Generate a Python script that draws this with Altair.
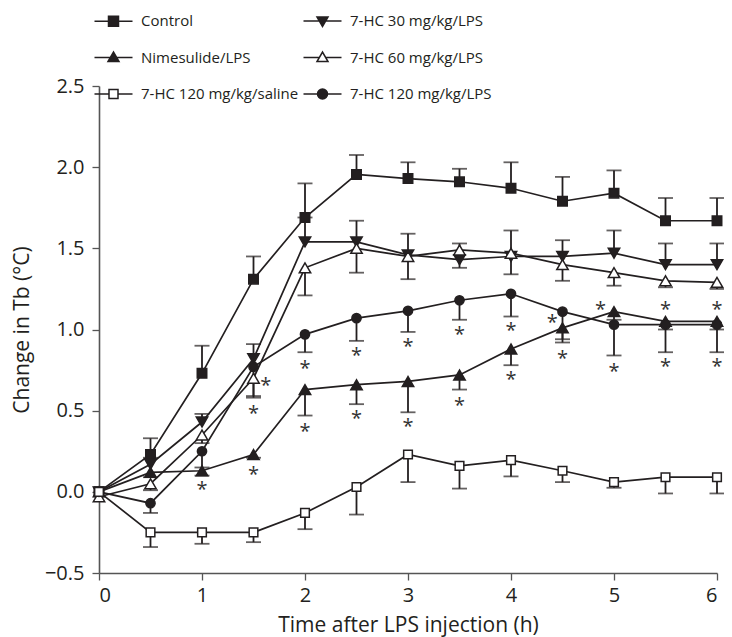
import altair as alt
import pandas as pd

# ---------------- data ----------------
times = [0, 0.5, 1, 1.5, 2, 2.5, 3, 3.5, 4, 4.5, 5, 5.5, 6]

series_names = [
    "Control",
    "7-HC 30 mg/kg/LPS",
    "Nimesulide/LPS",
    "7-HC 60 mg/kg/LPS",
    "7-HC 120 mg/kg/saline",
    "7-HC 120 mg/kg/LPS",
]

control_mean = [0, 0.23, 0.73, 1.31, 1.69, 1.955, 1.93, 1.91, 1.87, 1.79, 1.84, 1.67, 1.67]
control_err = [0, 0.10, 0.17, 0.14, 0.21, 0.12, 0.10, 0.08, 0.16, 0.15, 0.14, 0.14, 0.14]

hc30_mean = [0, 0.17, 0.43, 0.82, 1.54, 1.54, 1.46, 1.43, 1.45, 1.45, 1.47, 1.40, 1.40]
hc30_err = [0, 0.04, 0.05, 0.09, 0.15, 0.13, 0.13, 0.10, 0.16, 0.10, 0.14, 0.13, 0.13]

nime_mean = [0, 0.12, 0.13, 0.23, 0.63, 0.66, 0.68, 0.72, 0.88, 1.01, 1.11, 1.05, 1.05]
nime_err = [0, 0.03, 0.03, 0.02, 0.16, 0.12, 0.19, 0.09, 0.10, 0.09, 0.05, 0.05, 0.05]

hc60_mean = [-0.03, 0.05, 0.35, 0.70, 1.38, 1.50, 1.45, 1.49, 1.47, 1.40, 1.35, 1.30, 1.29]
hc60_err = [0, 0.04, 0.05, 0.11, 0.17, 0.15, 0.14, 0.11, 0.13, 0.10, 0.08, 0.04, 0.04]

saline_mean = [0, -0.25, -0.25, -0.25, -0.13, 0.03, 0.23, 0.16, 0.195, 0.13, 0.06, 0.09, 0.09]
saline_err = [0, 0.09, 0.07, 0.06, 0.10, 0.17, 0.17, 0.14, 0.10, 0.07, 0.035, 0.10, 0.10]

hc120_mean = [0, -0.07, 0.25, 0.77, 0.97, 1.07, 1.115, 1.18, 1.22, 1.11, 1.03, 1.03, 1.03]
hc120_err = [0, 0.06, 0.10, 0.19, 0.11, 0.14, 0.13, 0.12, 0.14, 0.17, 0.19, 0.17, 0.17]

# error bar direction (+1 up, -1 down)
err_dir = [1, 1, -1, -1, -1, -1]

# significance asterisks
ast_t = [1, 1.5, 1.5, 1.62, 2, 2, 2.5, 2.5, 3, 3, 3.5, 3.5, 4, 4, 4.4, 4.5, 4.87, 5, 5.5, 5.5, 6, 6]
ast_v = [0.04, 0.135, 0.51, 0.68, 0.79, 0.40, 0.87, 0.48, 0.92, 0.43, 1.00, 0.56, 1.02, 0.72,
         1.07, 0.85, 1.15, 0.77, 1.15, 0.80, 1.15, 0.80]

# ---------------- styling ----------------
INK = "#231f20"
point_shapes = ["square", "triangle-down", "triangle-up", "triangle-up", "square", "circle"]
point_fills = [INK, INK, INK, "white", "white", INK]
point_sizes = [90, 130, 130, 130, 75, 85]

legend_paths = [
    "M-3.8,0H-1M1,0H3.8M-1,-1H1V1H-1Z",
    "M-3.8,0H3.8M-1.1,-0.8H1.1L0,1.1Z",
    "M-3.8,0H3.8M-1.1,0.8H1.1L0,-1.1Z",
    "M-3.8,0H-0.64M0.64,0H3.8M-1.1,0.8H1.1L0,-1.1Z",
    "M-3.8,0H-0.9M0.9,0H3.8M-0.9,-0.9H0.9V0.9H-0.9Z",
    "M-3.8,0H3.8M-1,0A1,1,0,1,0,1,0A1,1,0,1,0,-1,0Z",
]

# legend fills column by column: left column first, then right column
legend_order = [0, 2, 4, 1, 3, 5]
legend_domain = [series_names[i] for i in legend_order]
legend_range = [legend_paths[i] for i in legend_order]
legend_fill = [point_fills[i] for i in legend_order]

means = [control_mean, hc30_mean, nime_mean, hc60_mean, saline_mean, hc120_mean]
errs = [control_err, hc30_err, nime_err, hc60_err, saline_err, hc120_err]

# draw order: saline last so its open square sits on top at t = 0
draw_order = [0, 1, 2, 3, 5, 4]
rows = []
for i in draw_order:
    for t, m, e in zip(times, means[i], errs[i]):
        rows.append(dict(series=series_names[i], t=t, mean=m, err=e,
                         end=m + err_dir[i] * e, shp=point_shapes[i],
                         fillc=point_fills[i], msize=point_sizes[i]))
df = pd.DataFrame(rows)
ast_df = pd.DataFrame({"t": ast_t, "v": ast_v})

x_scale = alt.Scale(domain=[0, 6], nice=False, zero=False)
y_scale = alt.Scale(domain=[-0.5, 2.5], nice=False, zero=False)

x_axis = alt.Axis(values=[0, 1, 2, 3, 4, 5, 6], format="d",
                  title="Time after LPS injection (h)", grid=False,
                  tickSize=7, labelPadding=5, labelFontSize=20,
                  titleFontSize=21, titleY=58, titleBaseline="alphabetic")
y_axis = alt.Axis(values=[-0.5, 0, 0.5, 1.0, 1.5, 2.0, 2.5], format=".1f",
                  title="Change in Tb (°C)", grid=False, tickSize=7,
                  labelPadding=8, labelFontSize=20, titleFontSize=21,
                  titleX=-77, titleY=243.5, titleBaseline="middle")

X = alt.X("t:Q", scale=x_scale, axis=x_axis)
Y = alt.Y("mean:Q", scale=y_scale, axis=y_axis)

base = alt.Chart(df)

lines = base.mark_line(color=INK, strokeWidth=1.7).encode(
    x=X, y=Y, detail="series:N", order="t:Q")

err_rules = base.transform_filter("datum.err > 0").mark_rule(
    color=INK, strokeWidth=1.8).encode(x="t:Q", y="mean:Q", y2="end:Q")

err_caps = base.transform_filter("datum.err > 0").mark_tick(
    orient="horizontal", size=15, thickness=1.8, color=INK).encode(
    x="t:Q", y="end:Q")

points = base.mark_point(opacity=1, filled=True, stroke=INK, strokeWidth=1.5).encode(
    x="t:Q", y="mean:Q",
    shape=alt.Shape("shp:N", scale=None),
    fill=alt.Fill("fillc:N", scale=None),
    size=alt.Size("msize:Q", scale=None))

leg = alt.Legend(title=None, orient="none", legendX=7, legendY=-72.5, columns=2,
                 symbolSize=100, symbolStrokeWidth=1.5, symbolStrokeColor=INK,
                 labelFont="Open Sans", labelFontSize=15,
                 labelColor=INK, labelOffset=20, columnPadding=1,
                 rowPadding=19.5, padding=0, labelLimit=400)

legend_layer = base.transform_filter("false").mark_point(
    opacity=1, filled=True, stroke=INK, strokeWidth=1.5).encode(
    x="t:Q", y="mean:Q",
    shape=alt.Shape("series:N", scale=alt.Scale(domain=legend_domain, range=legend_range), legend=leg),
    fill=alt.Fill("series:N", scale=alt.Scale(domain=legend_domain, range=legend_fill), legend=leg))

asterisks = alt.Chart(ast_df).mark_text(
    text="*", font="Open Sans", fontSize=20, color="#333333",
    baseline="middle", dy=5).encode(x="t:Q", y="v:Q")

chart = alt.layer(lines, err_rules, err_caps, points, asterisks, legend_layer).properties(
    width=618, height=487,
    autosize=alt.AutoSizeParams(type="none"),
    padding={"left": 91, "top": 78, "right": 7, "bottom": 64},
).configure_view(stroke=None).configure_axis(
    domainColor="#555555", domainWidth=1.6, tickColor="#555555", tickWidth=1.3,
    labelColor=INK, titleColor=INK, labelFont="Open Sans", titleFont="Open Sans",
    titleFontWeight="normal",
)

chart.save("out.html", embed_options={"renderer": "svg", "actions": False})
